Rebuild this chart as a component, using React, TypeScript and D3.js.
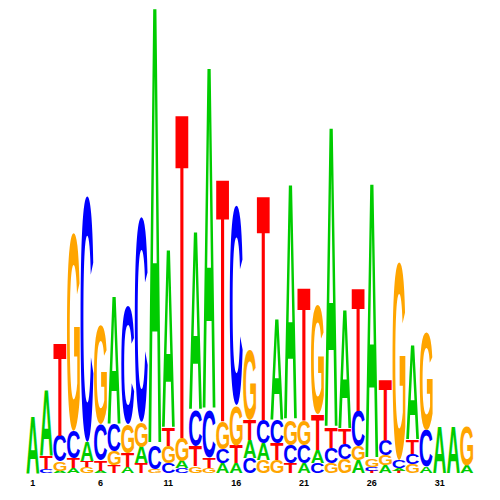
import React, { useMemo } from "react";
import * as d3 from "d3";

// Sequence logo: information content (bits) per base at each position
const positions = d3.range(1, 34);
const bases = ["A", "C", "G", "T"];
const tickLabels = ["1", "6", "11", "16", "21", "26", "31"];

const bitsA = [0.245, 0.28, 0.009, 0.022, 0.082, 0.009, 0.551, 0.026, 0.069, 1.88, 0.766, 0.03, 0.766, 1.471, 0.043, 0.043, 0.077, 0.073, 0.434, 1.011, 0.043, 0.056, 1.29, 0.508, 0.056, 1.183, 0.034, 0.013, 0.405, 0.026, 0.198, 0.198, 0.03];
const bitsC = [0, 0.017, 0.112, 0.116, 1.058, 0.155, 0.116, 0.508, 0.882, 0.103, 0.043, 0.022, 0.155, 0.206, 0.06, 0.86, 0.065, 0.099, 0.099, 0.077, 0.077, 0.043, 0.065, 0.065, 0.151, 0.017, 0.065, 0.034, 0.043, 0.159, 0, 0, 0];
const bitsG = [0, 0, 0.039, 0.852, 0.026, 0.426, 0.06, 0.125, 0.108, 0.017, 0.073, 0.099, 0.03, 0.022, 0.12, 0.172, 0.301, 0.056, 0.056, 0.108, 0.108, 0.469, 0.043, 0.06, 0.06, 0.034, 0.043, 0.852, 0.039, 0.417, 0, 0, 0.168];
const bitsT = [0, 0.056, 0.4, 0.043, 0.026, 0.043, 0.034, 0.06, 0.043, 0, 0.077, 1.398, 0.086, 0.043, 1.045, 0.077, 0.086, 0.968, 0.073, 0.043, 0.572, 0.151, 0.086, 0.065, 0.525, 0.009, 0.258, 0.009, 0.06, 0, 0, 0, 0];

const baseColors: Record<string, string> = {
  A: "#00CC00",
  C: "#0000FF",
  G: "#FFA500",
  T: "#FF0000",
};

const FONT = "'Liberation Sans', Arial, Helvetica, sans-serif";
const FS = 200;

function measure() {
  const m: Record<string, { L: number; R: number; A: number; D: number }> = {};
  const canvas = document.createElement("canvas");
  const ctx = canvas.getContext("2d")!;
  ctx.font = `bold ${FS}px ${FONT}`;
  for (const b of bases) {
    const t = ctx.measureText(b);
    m[b] = {
      L: t.actualBoundingBoxLeft,
      R: t.actualBoundingBoxRight,
      A: t.actualBoundingBoxAscent,
      D: t.actualBoundingBoxDescent,
    };
  }
  return m;
}

export default function App() {
  const metrics = useMemo(measure, []);
  const W = 500;
  const H = 500;
  const x = d3.scaleBand<number>().domain(positions).range([26, 473.5]).paddingInner(0.05).paddingOuter(0.02);
  const y = d3.scaleLinear().domain([0, 2]).range([473, 8]);

  const data: Record<string, number[]> = { A: bitsA, C: bitsC, G: bitsG, T: bitsT };

  const glyphs: React.ReactNode[] = [];
  positions.forEach((p, i) => {
    const stack = bases
      .map((b) => ({ b, v: data[b][i] }))
      .filter((d) => d.v > 0)
      .sort((a, b) => a.v - b.v);
    let cum = 0;
    const x0 = x(p)!;
    const w = x.bandwidth();
    stack.forEach((d) => {
      const yBottom = y(cum);
      const yTop = y(cum + d.v);
      cum += d.v;
      const h = yBottom - yTop;
      if (h < 0.4) return;
      const mm = metrics[d.b];
      const sx = w / (mm.L + mm.R);
      const sy = h / (mm.A + mm.D);
      const tx = x0 + mm.L * sx;
      const ty = yTop + mm.A * sy;
      glyphs.push(
        <text
          key={`${p}-${d.b}`}
          transform={`translate(${tx},${ty}) scale(${sx},${sy})`}
          fontFamily={FONT}
          fontWeight="bold"
          fontSize={FS}
          fill={baseColors[d.b]}
        >
          {d.b}
        </text>
      );
    });
  });

  return (
    <svg
      width={W}
      height={H}
      style={{ position: "absolute", left: 0, top: 0, background: "#fff" }}
    >
      <rect width={W} height={H} fill="#fff" />
      {glyphs}
      {tickLabels.map((t) => {
        const p = +t;
        return (
          <text
            key={t}
            x={x(p)! + x.bandwidth() / 2}
            y={486}
            textAnchor="middle"
            fontFamily={FONT}
            fontWeight="bold"
            fontSize={9}
            fill="#000"
          >
            {t}
          </text>
        );
      })}
    </svg>
  );
}
